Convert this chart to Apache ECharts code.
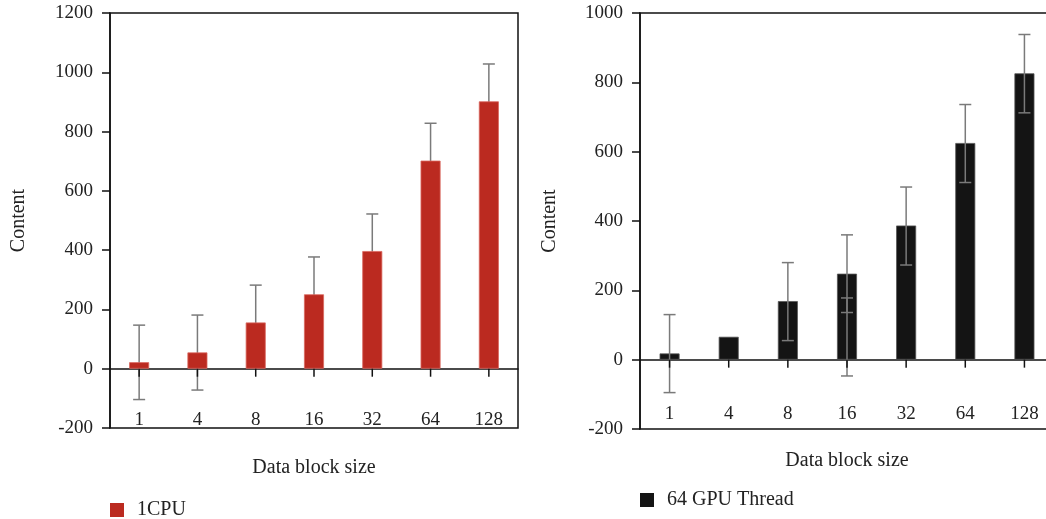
<!DOCTYPE html>
<html>
<head>
<meta charset="utf-8">
<script src="https://cdn.jsdelivr.net/npm/echarts@6/dist/echarts.min.js"></script>
<style>
  html, body { margin: 0; padding: 0; background: #fff; }
  #main { width: 1046px; height: 519px; }
</style>
</head>
<body>
<div id="main"></div>
<script>
// data
var categories = ['1', '4', '8', '16', '32', '64', '128'];
var cpuValues = [22, 55, 156, 251, 397, 702, 902];
var gpuValues = [18, 66, 169, 248, 387, 625, 826];
// [category index, low, high]
var cpuErrors = [[0, -104, 147], [1, -72, 181], [2, 31, 282], [3, 126, 377], [4, 272, 522], [5, 577, 828], [6, 777, 1028]];
var gpuErrors = [[0, -95, 130], [2, 55, 280], [3, 136, 360], [3, -47, 178], [4, 273, 498], [5, 511, 736], [6, 712, 938]];
var yTicks = { left: [-200, 1200, 200], right: [-200, 1000, 200] };
var tickData = categories.map(function (c, i) { return [i, 0]; });

var FONT = "'Liberation Serif', 'DejaVu Serif', serif";
var TXT = '#222';

//误差线
function errorItem(params, api) {
  var x = api.value(0);
  var lo = api.coord([x, api.value(1)]);
  var hi = api.coord([x, api.value(2)]);
  var half = 6;
  var style = { stroke: '#7a7a7a', lineWidth: 1.5 };
  return {
    type: 'group',
    children: [
      { type: 'line', shape: { x1: lo[0], y1: lo[1], x2: hi[0], y2: hi[1] }, style: style },
      { type: 'line', shape: { x1: lo[0] - half, y1: lo[1], x2: lo[0] + half, y2: lo[1] }, style: style },
      { type: 'line', shape: { x1: hi[0] - half, y1: hi[1], x2: hi[0] + half, y2: hi[1] }, style: style }
    ]
  };
}

//零线上的刻度
function tickItem(params, api) {
  var p = api.coord([api.value(0), api.value(1)]);
  return {
    type: 'line',
    shape: { x1: p[0], y1: p[1], x2: p[0], y2: p[1] + 8 },
    style: { stroke: '#111', lineWidth: 1.5 }
  };
}

function xAxisOf(idx, margin, gap) {
  return {
    type: 'category',
    gridIndex: idx,
    data: categories,
    axisLine: { onZero: true, lineStyle: { color: '#111', width: 1.5 } },
    axisTick: { show: false },
    axisLabel: { margin: margin, fontSize: 19, color: TXT, fontFamily: FONT },
    name: 'Data block size',
    nameLocation: 'middle',
    nameGap: gap,
    nameMoveOverlap: false,
    nameTextStyle: { fontSize: 20, color: TXT, fontFamily: FONT }
  };
}

function yAxisOf(idx, t, gap) {
  return {
    type: 'value',
    gridIndex: idx,
    min: t[0],
    max: t[1],
    interval: t[2],
    axisLine: { show: true, lineStyle: { color: '#111', width: 1.5 } },
    axisTick: { show: true, length: 8, lineStyle: { color: '#111', width: 1.5 } },
    splitLine: { show: false },
    axisLabel: { margin: 17, fontSize: 19, color: TXT, fontFamily: FONT, formatter: function (v) { return String(v); } },
    name: 'Content',
    nameLocation: 'middle',
    nameGap: gap,
    nameMoveOverlap: false,
    nameTextStyle: { fontSize: 20, color: TXT, fontFamily: FONT }
  };
}

var chart = echarts.init(document.getElementById('main'));
var option = {
  animation: false,
  textStyle: { fontFamily: FONT },
  grid: [
    { left: 110, top: 13, width: 408, height: 415, show: true, borderColor: '#111', borderWidth: 1.5, outerBoundsMode: 'none' },
    { left: 640, top: 13, width: 414, height: 416, show: true, borderColor: '#111', borderWidth: 1.5, outerBoundsMode: 'none' }
  ],
  legend: [
    {
      data: ['1CPU'], left: 110, top: 500, padding: 0, icon: 'rect', itemWidth: 14, itemHeight: 14,
      itemStyle: { borderWidth: 0 },
      textStyle: { fontSize: 20, color: TXT, fontFamily: FONT, padding: [0, 0, 0, 8] }
    },
    {
      data: ['64 GPU Thread'], left: 640, top: 490, padding: 0, icon: 'rect', itemWidth: 14, itemHeight: 14,
      itemStyle: { borderWidth: 0 },
      textStyle: { fontSize: 20, color: TXT, fontFamily: FONT, padding: [0, 0, 0, 8] }
    }
  ],
  xAxis: [xAxisOf(0, -17, 30), xAxisOf(1, -24, 22)],
  yAxis: [yAxisOf(0, yTicks.left, 81), yAxisOf(1, yTicks.right, 80)],
  series: [
    {
      name: '1CPU', type: 'bar', xAxisIndex: 0, yAxisIndex: 0, barWidth: 20, z: 3,
      itemStyle: { color: '#bb2a20', borderColor: '#d9675e', borderWidth: 0.8 },
      data: cpuValues
    },
    {
      name: 'cpuErr', type: 'custom', xAxisIndex: 0, yAxisIndex: 0, z: 2,
      renderItem: errorItem, encode: { x: 0, y: [1, 2] }, data: cpuErrors
    },
    {
      name: 'cpuTick', type: 'custom', xAxisIndex: 0, yAxisIndex: 0, z: 4,
      renderItem: tickItem, encode: { x: 0, y: 1 }, data: tickData
    },
    {
      name: '64 GPU Thread', type: 'bar', xAxisIndex: 1, yAxisIndex: 1, barWidth: 20, z: 2,
      itemStyle: { color: '#141414', borderColor: '#555', borderWidth: 0.8 },
      data: gpuValues
    },
    {
      name: 'gpuErr', type: 'custom', xAxisIndex: 1, yAxisIndex: 1, z: 3,
      renderItem: errorItem, encode: { x: 0, y: [1, 2] }, data: gpuErrors
    },
    {
      name: 'gpuTick', type: 'custom', xAxisIndex: 1, yAxisIndex: 1, z: 4,
      renderItem: tickItem, encode: { x: 0, y: 1 }, data: tickData
    }
  ]
};
chart.setOption(option);
</script>
</body>
</html>
